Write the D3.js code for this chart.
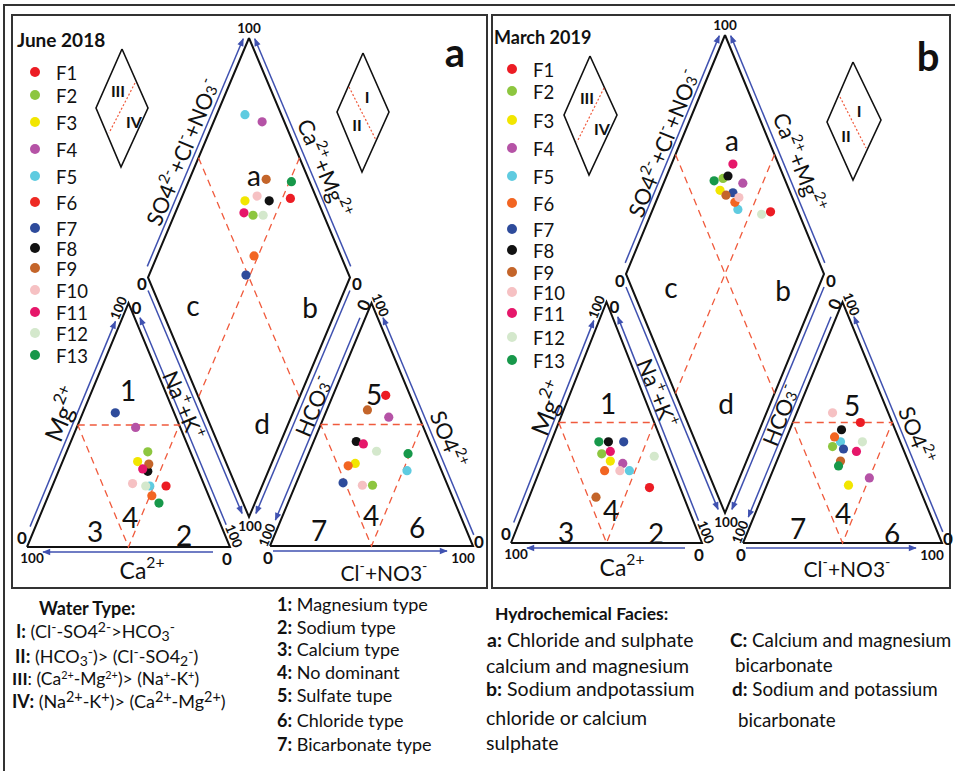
<!DOCTYPE html>
<html>
<head>
<meta charset="utf-8">
<script src="https://cdn.jsdelivr.net/npm/d3@7"></script>
<style>
  body { margin: 0; background: #fff; }
  svg { display: block; font-family: Lato, "Open Sans", sans-serif; }
</style>
</head>
<body>
<div id="chart"></div>
<script>
// samples and colours
var samples = ["F1","F2","F3","F4","F5","F6","F7","F8","F9","F10","F11","F12","F13"];
var pointColors = ["#ec1c24","#8dc63f","#f2e600","#b553a6","#5fcbe0","#f26522","#2e4b9b","#111111","#c4652a","#f6c1c3","#e6176a","#d4e8cc","#17984a"];
var legendColorsJune = ["#ec1c24","#8dc63f","#f2e600","#b553a6","#5fcbe0","#ee2a24","#2e4b9b","#111111","#c4652a","#f6c1c3","#e6176a","#d4e8cc","#17984a"];

// June 2018 (% meq)
var caJune  = [19,21,28,22,27,28,29,25,23,35,27,29,26];
var mgJune  = [25,39,35,49,25,21,55,31,34,26,32,25,18];
var clJune  = [26,38,25,32,52,22,23,21,20,33,25,33,49];
var so4June = [62,25,34,53,31,33,26,43,56,25,42,39,38];
var anionSumJune = [87,65,64,89,82,57,49,76,79,71,61,70,91];   // SO4+Cl+NO3 (diamond)
var caMgJune     = [46,61,68,76,86,52,52,56,62,63,66,56,49];   // Ca+Mg (diamond)

// March 2019 (% meq)
var caMarch  = [16,34,31,25,23,36,20,28,46,28,29,7,33];
var mgMarch  = [23,37,34,33,30,30,42,42,19,30,38,36,42];
var clMarch  = [34,25,41,50,28,24,31,26,32,18,38,39,32];
var so4March = [50,40,24,27,42,44,39,47,34,54,38,42,32];
var anionSumMarch = [86,69,65,78,70,70,71,72,67,73,77,81,64];
var caMgMarch     = [40,71,70,60,57,60,63,69,66,59,69,44,75];

var BLUE = "#3f51b0", RED = "#f05a3c", INK = "#111";

var svg = d3.select("#chart").append("svg").attr("width", 955).attr("height", 771);
svg.append("defs").append("marker").attr("id", "arr")
  .attr("viewBox", "0 0 10 10").attr("refX", 9).attr("refY", 5)
  .attr("markerUnits", "userSpaceOnUse").attr("markerWidth", 9).attr("markerHeight", 8)
  .attr("orient", "auto")
  .append("path").attr("d", "M0,1 L10,5 L0,9 z").attr("fill", BLUE);

function mid(a, b) { return [(a[0] + b[0]) / 2, (a[1] + b[1]) / 2]; }

function rich(g, x, y, parts, size, o) {
  o = o || {};
  var small = o.small || 0.68;
  var t = g.append("text").attr("x", x).attr("y", y).attr("font-size", size).attr("fill", INK);
  if (o.anchor) t.attr("text-anchor", o.anchor);
  if (o.central) t.attr("dominant-baseline", "central");
  if (o.rotate) t.attr("transform", "rotate(" + o.rotate + "," + x + "," + y + ")");
  parts.forEach(function(p) {
    var ts = t.append("tspan").text(p[0]);
    if (p[1] === "b") ts.attr("font-weight", "bold");
    if (p[1] === "sup") ts.attr("baseline-shift", (size * 0.33).toFixed(1)).attr("font-size", size * small);
    if (p[1] === "sub") ts.attr("baseline-shift", (-size * 0.15).toFixed(1)).attr("font-size", size * small);
  });
  return t;
}

function blueEdge(g, p, q, c, s0, s1) {
  var dx = q[0] - p[0], dy = q[1] - p[1], len = Math.hypot(dx, dy), ux = dx / len, uy = dy / len;
  var nx = -uy, ny = ux, m = mid(p, q);
  if ((m[0] - c[0]) * nx + (m[1] - c[1]) * ny < 0) { nx = -nx; ny = -ny; }
  var off = 5;
  g.append("line")
    .attr("x1", p[0] + nx * off + ux * s0).attr("y1", p[1] + ny * off + uy * s0)
    .attr("x2", q[0] + nx * off - ux * s1).attr("y2", q[1] + ny * off - uy * s1)
    .attr("stroke", BLUE).attr("stroke-width", 1.5).attr("marker-end", "url(#arr)");
}

function poly(g, pts, stroke, w, dash) {
  var l = g.append("path").attr("d", d3.line()(pts.concat([pts[0]])))
    .attr("fill", "none").attr("stroke", stroke).attr("stroke-width", w);
  if (dash) l.attr("stroke-dasharray", dash);
}
function seg(g, a, b, stroke, w, dash) {
  var l = g.append("line").attr("x1", a[0]).attr("y1", a[1]).attr("x2", b[0]).attr("y2", b[1])
    .attr("stroke", stroke).attr("stroke-width", w);
  if (dash) l.attr("stroke-dasharray", dash);
}

// rich labels
var lblSO4Cl = [["SO4","n"],["2-","sup"],["+Cl","n"],["-","sup"],["+NO","n"],["3","sub"],["-","sup"]];
var lblCaMg  = [["Ca","n"],["2+","sup"],["+Mg","n"],["2+","sup"]];
var lblMg    = [["Mg","n"],["2+","sup"]];
var lblNaK   = [["Na","n"],["+","sup"],["+K","n"],["+","sup"]];
var lblCa    = [["Ca","n"],["2+","sup"]];
var lblHCO3  = [["HCO","n"],["3","sub"],["-","sup"]];
var lblSO4   = [["SO4","n"],["2+","sup"]];
var lblClNO3 = [["Cl","n"],["-","sup"],["+NO3","n"],["-","sup"]];

var layouts = [
  { title: "June 2018", titleSize: 19, letter: "a", titlePos: [17, 47], letterPos: [455, 52], box: [12, 15, 487, 588],
    lt: { bl: [27, 547], br: [230, 547], ap: [128.5, 303] },
    rt: { bl: [270, 546], br: [473, 546], ap: [371.5, 303] },
    dm: { b: [249, 517], l: [148, 277.5], r: [350, 277.5], t: [249, 38] },
    legendDotX: 35, legendTextX: 56, legendY: [72,95,122,149,176,202,228,248,268,290,312,333,355],
    legendColors: legendColorsJune,
    insets: [
      { pts: [[122,49],[148,108],[121,167],[96,108]], dot: [[135,83],[109,133]], labels: [["III",118,90],["IV",134,121]] },
      { pts: [[363,53],[389,112],[362,172],[337,112]], dot: [[349,87],[376,140]], labels: [["I",367,96],["II",357,124]] } ],
    axisLabels: [[lblSO4Cl,182,152,-1,22],[lblCaMg,325,168,1,22],[lblMg,62,414,-1,25],[lblNaK,184,405,1,22],
                 [lblHCO3,313,406,-1,22],[lblSO4,449,439,1,22],[lblCa,142,570,0,23],[lblClNO3,384,572,0,21]],
    regions: [["a",254,175],["c",193,305],["b",310,307],["d",262,423],["1",128,390],["3",95,531],["4",130,517],
              ["2",184,535],["5",374,394],["7",319,530],["4",371,515],["6",417,527]],
    ca: caJune, mg: mgJune, cl: clJune, so4: so4June, anSum: anionSumJune, caMg: caMgJune },
  { title: "March 2019", titleSize: 18, letter: "b", titlePos: [494, 44], letterPos: [928, 56], box: [492, 15, 950, 588],
    lt: { bl: [511, 543], br: [702, 543], ap: [606.5, 302] },
    rt: { bl: [743, 543], br: [942, 543], ap: [842.5, 302] },
    dm: { b: [725, 513], l: [626, 274], r: [824, 274], t: [725, 35] },
    legendDotX: 512, legendTextX: 533, legendY: [69,91,120,148,176,203,229,250,272,292,313,337,360],
    legendColors: pointColors,
    insets: [
      { pts: [[590,56],[617,115],[589,175],[564,115]], dot: [[604,88],[577,142]], labels: [["III",587,97],["IV",602,128]] },
      { pts: [[853,62],[881,120],[853,180],[827,122]], dot: [[840,97],[866,148]], labels: [["I",859,110],["II",846,135]] } ],
    axisLabels: [[lblSO4Cl,663,143,-1,22],[lblCaMg,800,162,1,22],[lblMg,548,408,-1,25],[lblNaK,658,393,1,22],
                 [lblHCO3,780,415,-1,22],[lblSO4,917,435,1,22],[lblCa,622,567,0,23],[lblClNO3,847,568,0,21]],
    regions: [["a",732,140],["c",671,287],["b",783,290],["d",726,403],["1",608,403],["3",566,532],["4",611,510],
              ["2",656,533],["5",852,405],["7",798,528],["4",843,513],["6",892,533]],
    ca: caMarch, mg: mgMarch, cl: clMarch, so4: so4March, anSum: anionSumMarch, caMg: caMgMarch }
];

// outer frame
svg.append("path").attr("d", "M4,776 V5 H960").attr("fill", "none").attr("stroke", "#333").attr("stroke-width", 2);

layouts.forEach(function(L) {
  var g = svg.append("g");
  var bx = L.box;
  g.append("rect").attr("x", bx[0]).attr("y", bx[1]).attr("width", bx[2] - bx[0]).attr("height", bx[3] - bx[1])
    .attr("fill", "none").attr("stroke", "#333").attr("stroke-width", 2);

  var lt = L.lt, rt = L.rt, dm = L.dm;
  var ang = Math.atan2(lt.ap[1] - lt.bl[1], lt.ap[0] - lt.bl[0]) * 180 / Math.PI; // ~ -67
  var cLt = [(lt.bl[0] + lt.br[0] + lt.ap[0]) / 3, (lt.bl[1] + lt.br[1] + lt.ap[1]) / 3];
  var cRt = [(rt.bl[0] + rt.br[0] + rt.ap[0]) / 3, (rt.bl[1] + rt.br[1] + rt.ap[1]) / 3];
  var cDm = mid(dm.l, dm.r);

  // blue axis arrows
  blueEdge(g, dm.l, dm.t, cDm, 10, 3);
  blueEdge(g, dm.r, dm.t, cDm, 10, 3);
  blueEdge(g, dm.l, dm.b, cDm, 12, 6);
  blueEdge(g, dm.r, dm.b, cDm, 12, 6);
  blueEdge(g, lt.bl, lt.ap, cLt, 20, 22);
  blueEdge(g, lt.br, lt.bl, cLt, 17, 16);
  blueEdge(g, lt.br, lt.ap, cLt, 22, 18);
  blueEdge(g, rt.ap, rt.bl, cRt, 18, 26);
  blueEdge(g, rt.bl, rt.br, cRt, 3, 26);
  blueEdge(g, rt.br, rt.ap, cRt, 10, 18);

  // outlines
  poly(g, [dm.t, dm.r, dm.b, dm.l], INK, 2);
  poly(g, [lt.bl, lt.br, lt.ap], INK, 2);
  poly(g, [rt.bl, rt.br, rt.ap], INK, 2);

  // 50% division lines
  var dash = "7,5";
  seg(g, mid(dm.l, dm.t), mid(dm.r, dm.b), RED, 1.3, dash);
  seg(g, mid(dm.r, dm.t), mid(dm.l, dm.b), RED, 1.3, dash);
  [lt, rt].forEach(function(t) {
    poly(g, [mid(t.bl, t.ap), mid(t.br, t.ap), mid(t.bl, t.br)], RED, 1.3, dash);
  });

  // tick labels (0 / 100)
  function tick(txt, p, dx, dy, rot) {
    var x = p[0] + dx, y = p[1] + dy;
    var t = g.append("text").attr("x", x).attr("y", y).attr("text-anchor", "middle")
      .attr("dominant-baseline", "central").attr("font-weight", "bold")
      .attr("font-size", txt === "0" ? 17 : 13.5).attr("fill", INK).text(txt);
    if (rot) t.attr("transform", "rotate(" + rot + "," + x + "," + y + ")");
  }
  tick("100", dm.t, 0, -10, 0);
  tick("0", dm.l, -6, 6, 0);
  tick("0", dm.r, 7, 6, 0);
  tick("100", dm.b, 1, 9, 0);
  tick("100", lt.ap, -10, 5, ang);
  tick("0", lt.ap, 8, 4, 0);
  tick("0", lt.bl, -5, -10, 0);
  tick("100", lt.bl, 5, 11, 0);
  tick("0", lt.br, -3, 11, 0);
  tick("100", lt.br, 4, -11, -ang);
  tick("0", rt.ap, -8, 2, ang);
  tick("100", rt.ap, 9, 2, -ang);
  tick("100", rt.bl, -3, -11, ang);
  tick("0", rt.bl, -2, 11, 0);
  tick("100", rt.br, -10, 12, 0);
  tick("0", rt.br, 6, -5, 0);

  // axis titles
  L.axisLabels.forEach(function(a) {
    var rot = a[3] < 0 ? ang : (a[3] > 0 ? -ang : 0);
    rich(g, a[1], a[2], a[0], a[4], { anchor: "middle", central: true, rotate: rot });
  });

  // region labels
  L.regions.forEach(function(r) {
    g.append("text").attr("x", r[1]).attr("y", r[2]).attr("text-anchor", "middle").attr("dominant-baseline", "central")
      .attr("font-size", 28).attr("fill", INK).text(r[0]);
  });

  // insets
  L.insets.forEach(function(ins) {
    poly(g, ins.pts, INK, 1.6);
    seg(g, ins.dot[0], ins.dot[1], RED, 1.2, "2,2");
    ins.labels.forEach(function(l) {
      g.append("text").attr("x", l[1]).attr("y", l[2]).attr("text-anchor", "middle").attr("dominant-baseline", "central")
        .attr("font-size", 16).attr("font-weight", "bold").attr("fill", INK).text(l[0]);
    });
  });

  // titles
  g.append("text").attr("x", L.titlePos[0]).attr("y", L.titlePos[1]).attr("font-size", L.titleSize).attr("font-weight", "bold")
    .attr("fill", INK).text(L.title);
  g.append("text").attr("x", L.letterPos[0]).attr("y", L.letterPos[1]).attr("text-anchor", "middle")
    .attr("dominant-baseline", "central").attr("font-size", 40).attr("font-weight", "bold").attr("fill", INK).text(L.letter);

  // legend
  samples.forEach(function(s, i) {
    g.append("circle").attr("cx", L.legendDotX).attr("cy", L.legendY[i]).attr("r", 5).attr("fill", L.legendColors[i]);
    g.append("text").attr("x", L.legendTextX).attr("y", L.legendY[i] + 1).attr("dominant-baseline", "central")
      .attr("font-size", 18.5).attr("fill", INK).text(s);
  });

  // scales
  function triScale(t) {
    var x = d3.scaleLinear().domain([0, 100]).range([t.bl[0], t.br[0]]);
    var y = d3.scaleLinear().domain([0, 100]).range([t.bl[1], t.ap[1]]);
    return function(right, top) { return [x(right + top / 2), y(top)]; };
  }
  var catPos = triScale(lt), anPos = triScale(rt);
  var f = d3.scaleLinear().domain([0, 100]).range([0, 1]);
  function dmPos(s, c) {
    return [dm.b[0] + f(s) * (dm.r[0] - dm.b[0]) + f(c) * (dm.l[0] - dm.b[0]),
            dm.b[1] + f(s) * (dm.r[1] - dm.b[1]) + f(c) * (dm.l[1] - dm.b[1])];
  }

  var idx = d3.range(samples.length);
  g.append("g").selectAll("circle").data(idx).join("circle")
    .attr("cx", function(i) { return catPos(100 - L.ca[i] - L.mg[i], L.mg[i])[0]; })
    .attr("cy", function(i) { return catPos(100 - L.ca[i] - L.mg[i], L.mg[i])[1]; })
    .attr("r", 4.6).attr("fill", function(i) { return pointColors[i]; });
  g.append("g").selectAll("circle").data(idx).join("circle")
    .attr("cx", function(i) { return anPos(L.cl[i], L.so4[i])[0]; })
    .attr("cy", function(i) { return anPos(L.cl[i], L.so4[i])[1]; })
    .attr("r", 4.6).attr("fill", function(i) { return pointColors[i]; });
  g.append("g").selectAll("circle").data(idx).join("circle")
    .attr("cx", function(i) { return dmPos(L.anSum[i], L.caMg[i])[0]; })
    .attr("cy", function(i) { return dmPos(L.anSum[i], L.caMg[i])[1]; })
    .attr("r", 4.6).attr("fill", function(i) { return pointColors[i]; });
});

// bottom notes
var notes = svg.append("g");
rich(notes, 39, 615, [["Water Type:", "b"]], 18);
rich(notes, 16, 638, [["I:","b"],[" (Cl","n"],["-","sup"],["-SO4","n"],["2-","sup"],[">HCO","n"],["3","sub"],["-","sup"]], 18, { small: 0.78 });
rich(notes, 15, 663, [["II:","b"],[" (HCO","n"],["3","sub"],["-","sup"],[")> (Cl","n"],["-","sup"],["-SO4","n"],["2","sub"],["-","sup"],[")","n"]], 18, { small: 0.78 });
rich(notes, 12, 685, [["III","b"],[": (Ca","n"],["2+","sup"],["-Mg","n"],["2+","sup"],[")> (Na","n"],["+","sup"],["-K","n"],["+","sup"],[")","n"]], 17.5, { small: 0.62 });
rich(notes, 12, 708, [["IV:","b"],[" (Na","n"],["2+","sup"],["-K","n"],["+","sup"],[")> (Ca","n"],["2+","sup"],["-Mg","n"],["2+","sup"],[")","n"]], 18, { small: 0.8 });

var typeNotes = [["1:"," Magnesium type",611],["2:"," Sodium type",634],["3:"," Calcium type",656],["4:"," No dominant",679],
                 ["5:"," Sulfate tupe",702],["6:"," Chloride type",727],["7:"," Bicarbonate type",751]];
typeNotes.forEach(function(n) { rich(notes, 277, n[2], [[n[0], "b"], [n[1], "n"]], 18); });

rich(notes, 495, 620, [["Hydrochemical Facies:", "b"]], 17.5);
rich(notes, 487, 647, [["a:","b"],[" Chloride and sulphate","n"]], 19.5);
rich(notes, 486, 673, [["calcium and magnesium","n"]], 19.5);
rich(notes, 486, 696, [["b:","b"],[" Sodium andpotassium","n"]], 19.5);
rich(notes, 486, 725, [["chloride or calcium","n"]], 19.5);
rich(notes, 486, 750, [["sulphate","n"]], 19.5);
rich(notes, 730, 647, [["C:","b"],[" Calcium and magnesium","n"]], 18.8);
rich(notes, 735, 672, [["bicarbonate","n"]], 18.8);
rich(notes, 732, 696, [["d:","b"],[" Sodium and potassium","n"]], 18.8);
rich(notes, 738, 727, [["bicarbonate","n"]], 18.8);
</script>
</body>
</html>
